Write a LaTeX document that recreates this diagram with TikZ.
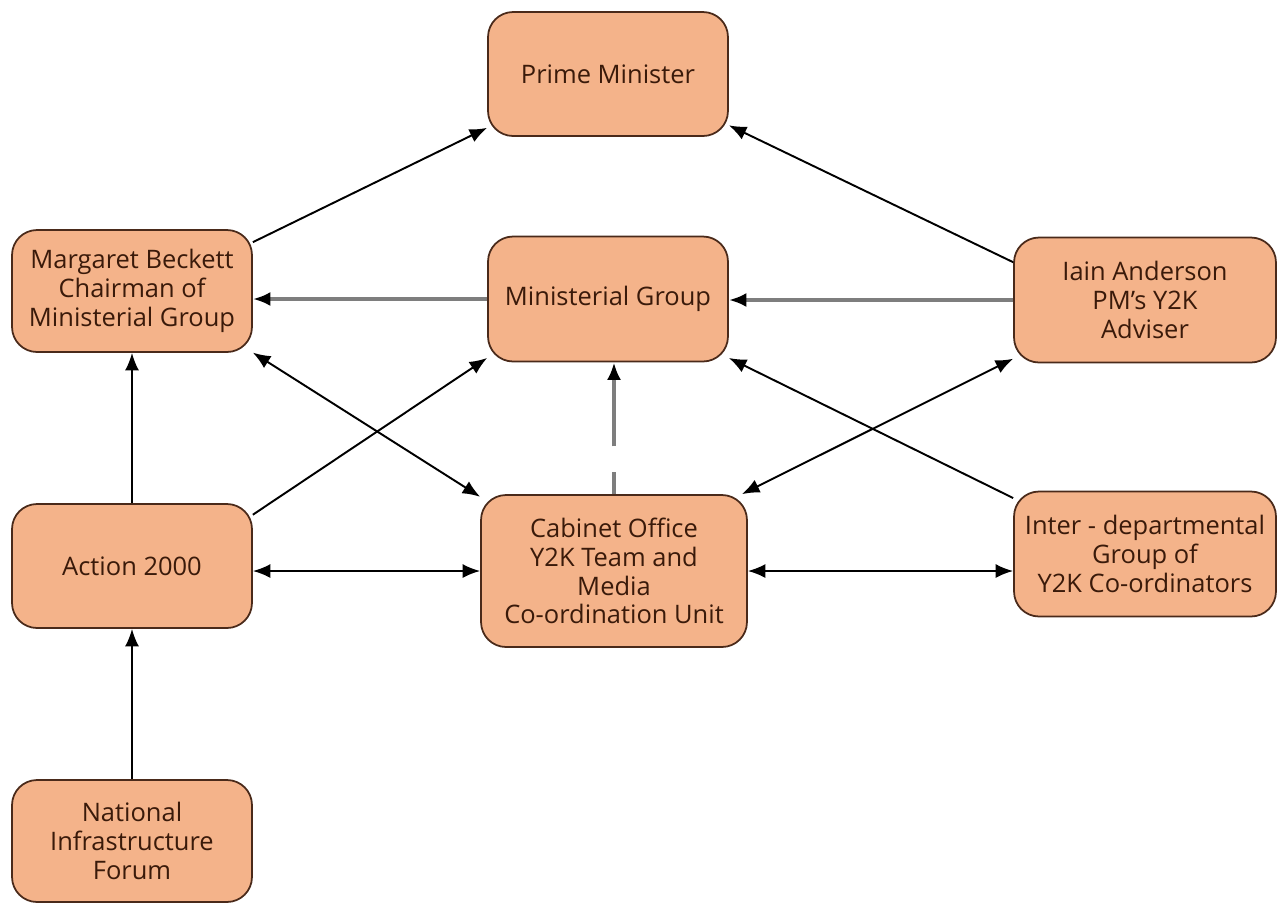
\documentclass[tikz,border=0pt]{standalone}
\usepackage{fontspec}
\setmainfont{Open Sans}
\usetikzlibrary{arrows.meta}

\definecolor{boxfill}{HTML}{F4B38A}
\definecolor{boxline}{HTML}{4A2A1A}
\definecolor{boxtext}{HTML}{3A1A0A}
\definecolor{greyline}{HTML}{7E7E7E}

\tikzset{
  unit/.style={draw=boxline, line width=1pt, fill=boxfill, rounded corners=0.5cm,
    align=center, text=boxtext, inner sep=2pt,
    font=\fontsize{14.5}{16.4}\selectfont},
  link/.style={line width=1.1pt, -{Latex[length=10pt,width=8pt,color=black]}},
  twoway/.style={line width=1.1pt, {Latex[length=10pt,width=8pt]}-{Latex[length=10pt,width=8pt]}},
  greylink/.style={link, draw=greyline, line width=2pt}
}

\begin{document}
\begin{tikzpicture}[x=0.02cm, y=-0.02cm]

\useasboundingbox (0,0) rectangle (1278,904);

%draw boxes
\node[unit, minimum width=4.8cm, minimum height=2.48cm] (pm) at (608,74) {Prime Minister};
\node[unit, minimum width=4.8cm, minimum height=2.44cm] (beckett) at (132,291) {Margaret Beckett\\Chairman of\\Ministerial Group};
\node[unit, minimum width=4.8cm, minimum height=2.5cm] (mingroup) at (608,299) {Ministerial Group};
\node[unit, minimum width=5.24cm, minimum height=2.5cm] (anderson) at (1145,300) {Iain Anderson\\PM's Y2K\\Adviser};
\node[unit, minimum width=4.8cm, minimum height=2.48cm] (action) at (132,566) {Action 2000};
\node[unit, minimum width=5.32cm, minimum height=3.04cm] (cabinet) at (614,571) {Cabinet Office\\Y2K Team and\\Media\\Co-ordination Unit};
\node[unit, minimum width=5.24cm, minimum height=2.5cm] (interdept) at (1145,554) {Inter - departmental\\Group of\\Y2K Co-ordinators};
\node[unit, minimum width=4.8cm, minimum height=2.44cm] (nif) at (132,841) {National\\Infrastructure\\Forum};

%draw links to the prime minister
\draw[link] (beckett.22) -- (pm.204);
\draw[link] (anderson.164) -- (pm.337);

%draw grey links to the ministerial group
\draw[greylink] (mingroup.west) -- (mingroup.west -| beckett.east);
\draw[greylink] (anderson.west) -- (anderson.west -| mingroup.east);
\draw[greylink, dash pattern=on 12.5pt off 14.7pt on 300pt] (cabinet.north) -- (cabinet.north |- mingroup.south);

%draw diagonal links
\draw[link] (action.23) -- (mingroup.206);
\draw[link] (interdept.157) -- (mingroup.334);
\draw[twoway] (beckett.333) -- (cabinet.151);
\draw[twoway] (cabinet.31) -- (anderson.204);

%draw vertical links
\draw[link] (action.north) -- (beckett.south);
\draw[link] (nif.north) -- (action.south);

%draw horizontal links
\draw[twoway] (cabinet.west -| action.east) -- (cabinet.west);
\draw[twoway] (cabinet.east) -- (cabinet.east -| interdept.west);

\end{tikzpicture}
\end{document}
